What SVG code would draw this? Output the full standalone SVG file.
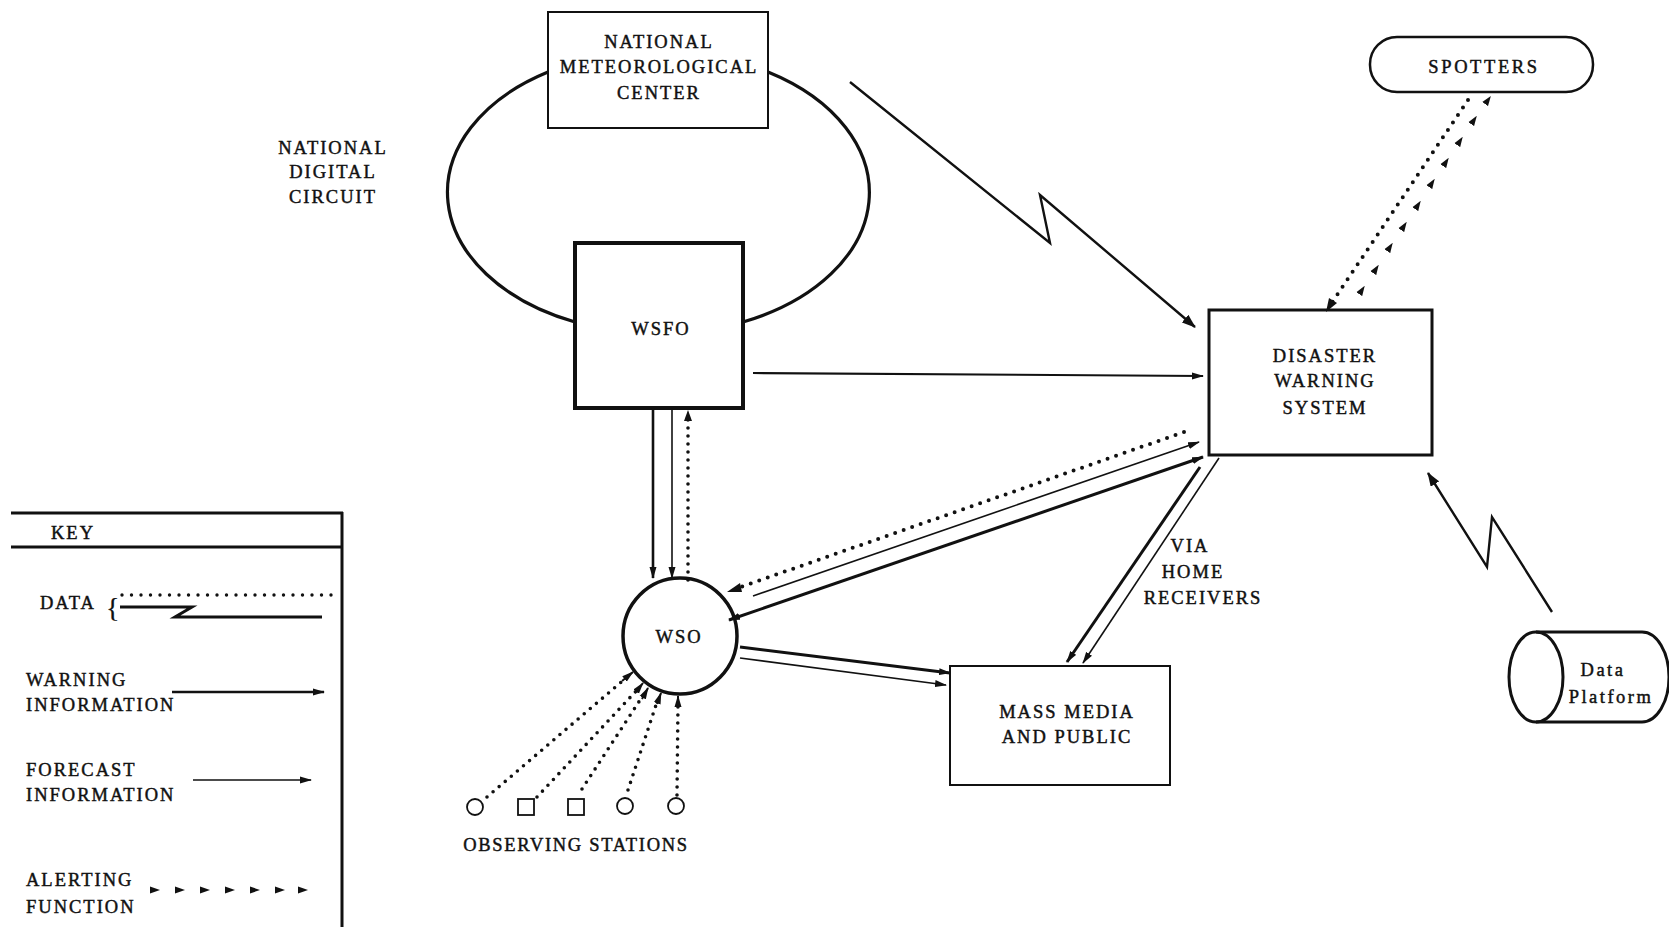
<svg xmlns="http://www.w3.org/2000/svg" width="1669" height="927" viewBox="0 0 1669 927">
<defs>
<style>
.t{font-family:"Liberation Serif","Times New Roman",serif;font-size:18.5px;letter-spacing:2px;fill:#111;stroke:#111;stroke-width:0.45px;}
.m{text-anchor:middle;}
.box{fill:none;stroke:#111;stroke-width:2;}
.heavy{fill:none;stroke:#111;stroke-width:3.5;}
.warn{fill:none;stroke:#111;stroke-width:3;}
.fore{fill:none;stroke:#111;stroke-width:1.6;}
.dot{fill:none;stroke:#111;stroke-width:4;stroke-linecap:round;stroke-dasharray:0 9;}
.zig{fill:none;stroke:#111;stroke-width:2.4;stroke-linejoin:miter;}
</style>
<marker id="ah" markerUnits="userSpaceOnUse" viewBox="0 0 12 8" refX="11" refY="4" markerWidth="12" markerHeight="8" orient="auto-start-reverse">
<path d="M0,0.5 L12,4 L0,7.5 z" fill="#111"/>
</marker>
<marker id="big" markerUnits="userSpaceOnUse" viewBox="0 0 14 10" refX="13" refY="5" markerWidth="14" markerHeight="10" orient="auto">
<path d="M0,0 L14,5 L0,10 z" fill="#111"/>
</marker>
<marker id="al" markerUnits="userSpaceOnUse" viewBox="0 0 10 8" refX="5" refY="4" markerWidth="10" markerHeight="8" orient="auto">
<path d="M0,0.5 L10,4 L0,7.5 z" fill="#111"/>
</marker>
</defs>
<rect width="1669" height="927" fill="#fff"/>

<g id="circuit">
<path d="M548,72 A210,141 0 0 0 575,322" class="heavy" style="stroke-width:3.2"/>
<path d="M768,72 A210,141 0 0 1 743,322" class="heavy" style="stroke-width:3.2"/>
<text class="t m" x="333" y="154">NATIONAL</text>
<text class="t m" x="333" y="178">DIGITAL</text>
<text class="t m" x="333" y="203">CIRCUIT</text>
</g>

<g id="nmc">
<rect x="548" y="12" width="220" height="116" class="box"/>
<text class="t m" x="659" y="48">NATIONAL</text>
<text class="t m" x="659" y="73">METEOROLOGICAL</text>
<text class="t m" x="659" y="99">CENTER</text>
</g>

<g id="wsfo">
<rect x="575" y="243" width="168" height="165" class="heavy" style="stroke-width:4"/>
<text class="t m" x="661" y="335">WSFO</text>
</g>

<g id="spotters">
<rect x="1370" y="37" width="223" height="55" rx="27" ry="27" class="box" style="stroke-width:2.5"/>
<text class="t m" x="1484" y="73" style="letter-spacing:2.6px">SPOTTERS</text>
</g>

<g id="dws">
<rect x="1209" y="310" width="223" height="145" class="heavy" style="stroke-width:3"/>
<text class="t m" x="1325" y="362">DISASTER</text>
<text class="t m" x="1325" y="387">WARNING</text>
<text class="t m" x="1325" y="414">SYSTEM</text>
</g>

<g id="wso">
<ellipse cx="680" cy="636" rx="57" ry="58" class="heavy"/>
<text class="t m" x="679" y="643">WSO</text>
</g>

<g id="massmedia">
<rect x="950" y="666" width="220" height="119" class="box"/>
<text class="t m" x="1067" y="718">MASS MEDIA</text>
<text class="t m" x="1067" y="743">AND PUBLIC</text>
</g>

<g id="dataplatform">
<path d="M1536,632 L1642,632 A27,45 0 0 1 1642,722 L1536,722" class="box" style="stroke-width:3"/>
<ellipse cx="1536" cy="677" rx="27" ry="45" class="box" style="stroke-width:3"/>
<text class="t m" x="1603" y="676" style="letter-spacing:2.5px">Data</text>
<text class="t m" x="1611" y="703" style="letter-spacing:2.5px">Platform</text>
</g>

<g id="stations">
<circle cx="475" cy="807" r="8" class="box" style="stroke-width:1.8"/>
<rect x="518" y="799" width="16" height="16" class="box" style="stroke-width:1.8"/>
<rect x="568" y="799" width="16" height="16" class="box" style="stroke-width:1.8"/>
<circle cx="625" cy="806" r="8" class="box" style="stroke-width:1.8"/>
<circle cx="676" cy="806" r="8" class="box" style="stroke-width:1.8"/>
<text class="t m" x="576" y="851" style="letter-spacing:1.7px">OBSERVING STATIONS</text>
</g>

<g id="connectors">
<polyline points="850,82 1050,243 1040,195 1195,327" class="zig" marker-end="url(#big)"/>
<line x1="753" y1="373" x2="1203" y2="376" class="warn" style="stroke-width:2.2" marker-end="url(#ah)"/>
<line x1="653" y1="408" x2="653" y2="578" class="warn" style="stroke-width:2.6" marker-end="url(#ah)"/>
<line x1="672" y1="408" x2="672" y2="578" class="fore" marker-end="url(#ah)"/>
<line x1="688" y1="580" x2="688" y2="412" class="dot" style="stroke-width:3.6;stroke-dasharray:0 8"/>
<polygon points="688,410 684,421 692,421" fill="#111"/>
<line x1="1184" y1="432" x2="735" y2="589" class="dot"/>
<polygon points="727,592 740,583 742,592" fill="#111"/>
<line x1="753" y1="596" x2="1199" y2="442" class="fore" marker-end="url(#ah)"/>
<line x1="729" y1="620" x2="1203" y2="457" class="warn" marker-start="url(#ah)" marker-end="url(#ah)"/>
<line x1="740" y1="647" x2="950" y2="673" class="warn" marker-end="url(#ah)"/>
<line x1="740" y1="658" x2="946" y2="685" class="fore" marker-end="url(#ah)"/>
<line x1="1200" y1="467" x2="1067" y2="662" class="warn" marker-end="url(#ah)"/>
<line x1="1219" y1="458" x2="1083" y2="663" class="fore" marker-end="url(#ah)"/>
<text class="t m" x="1190" y="552">VIA</text>
<text class="t m" x="1193" y="578">HOME</text>
<text class="t m" x="1203" y="604">RECEIVERS</text>
<line x1="1468" y1="100" x2="1331" y2="304" class="dot"/>
<polygon points="1326,312 1329,298 1337,303" fill="#111"/>
<polyline points="1362,290 1376,269 1390,247 1404,226 1418,205 1432,183 1446,162 1460,141 1474,120 1488,100" fill="none" stroke="none" marker-start="url(#al)" marker-mid="url(#al)" marker-end="url(#al)"/>
<polyline points="1552,612 1492,517 1487,567 1428,473" class="zig" marker-end="url(#big)"/>
<line x1="487" y1="797" x2="626" y2="678" class="dot" style="stroke-width:3.6;stroke-dasharray:0 8"/>
<line x1="537" y1="797" x2="638" y2="689" class="dot" style="stroke-width:3.6;stroke-dasharray:0 8"/>
<line x1="582" y1="789" x2="644" y2="694" class="dot" style="stroke-width:3.6;stroke-dasharray:0 8"/>
<line x1="628" y1="790" x2="658" y2="699" class="dot" style="stroke-width:3.6;stroke-dasharray:0 8"/>
<line x1="677" y1="795" x2="678" y2="703" class="dot" style="stroke-width:3.6;stroke-dasharray:0 8"/>
<line x1="622" y1="681" x2="633" y2="672" stroke="#111" stroke-width="2" marker-end="url(#ah)"/>
<line x1="635" y1="693" x2="643" y2="683" stroke="#111" stroke-width="2" marker-end="url(#ah)"/>
<line x1="642" y1="699" x2="648" y2="688" stroke="#111" stroke-width="2" marker-end="url(#ah)"/>
<line x1="657" y1="704" x2="661" y2="693" stroke="#111" stroke-width="2" marker-end="url(#ah)"/>
<line x1="678" y1="708" x2="678" y2="696" stroke="#111" stroke-width="2" marker-end="url(#ah)"/>
</g>

<g id="key">
<line x1="11" y1="513" x2="343" y2="513" stroke="#111" stroke-width="3"/>
<line x1="11" y1="547" x2="343" y2="547" stroke="#111" stroke-width="3"/>
<line x1="342" y1="512" x2="342" y2="927" stroke="#111" stroke-width="3"/>
<text class="t" x="51" y="539">KEY</text>
<text class="t" x="40" y="609">DATA</text>
<text class="t" x="106" y="617" style="font-size:28px;letter-spacing:0;stroke-width:0.2px">{</text>
<line x1="122" y1="595" x2="332" y2="595" class="dot" style="stroke-width:3.4;stroke-dasharray:0 9.5"/>
<polyline points="120,607 192,607 175,617 322,617" class="zig" style="stroke-width:3"/>
<text class="t" x="26" y="686">WARNING</text>
<text class="t" x="26" y="711">INFORMATION</text>
<line x1="172" y1="692" x2="324" y2="692" class="warn" style="stroke-width:2.4" marker-end="url(#ah)"/>
<text class="t" x="26" y="776">FORECAST</text>
<text class="t" x="26" y="801">INFORMATION</text>
<line x1="193" y1="780" x2="311" y2="780" class="fore" marker-end="url(#ah)"/>
<text class="t" x="26" y="886">ALERTING</text>
<text class="t" x="26" y="913">FUNCTION</text>
<polyline points="155,890 180,890 205,890 230,890 255,890 280,890 303,890" fill="none" stroke="none" marker-start="url(#al)" marker-mid="url(#al)" marker-end="url(#al)"/>
</g>
</svg>
